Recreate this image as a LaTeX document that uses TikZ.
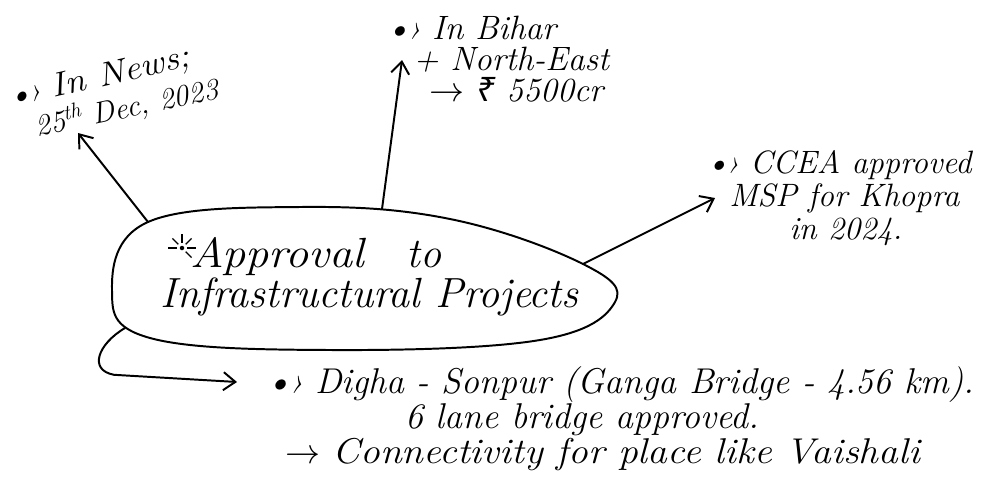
\documentclass[tikz,border=0pt]{standalone}
\usepackage{fontspec}
\usepackage{tikz}
\usetikzlibrary{arrows.meta, positioning, calc}
\newfontfamily\rupeefont{Noto Sans}
\newcommand{\bul}{\textbullet\kern-1.5pt\guilsinglright\ }

\tikzset{
  ink/.style={line width=1.4pt, line cap=round, line join=round},
  arr/.style={ink, -{Straight Barb[length=3mm,width=4.5mm]}},
  note/.style={font=\itshape\fontsize{23}{23.5}\selectfont, align=left, inner sep=0pt},
  big/.style={font=\itshape\fontsize{30}{28.5}\selectfont, align=left, inner sep=0pt},
  low/.style={font=\itshape\fontsize{25.5}{26}\selectfont, inner sep=0pt, anchor=base west}
}

\begin{document}
\begin{tikzpicture}
  \useasboundingbox (0,0) rectangle (24.75,-12.325);

  % central blob
  \draw[ink] plot[smooth cycle, tension=0.65] coordinates {
    (3.7,-5.55) (7.5,-5.175) (11.25,-5.475) (14.575,-6.6) (15.375,-7.55)
    (13.5,-8.5) (8.25,-8.75) (3.75,-8.45) (2.8,-7.25)};
  \coordinate (bnw) at (3.7,-5.55);
  \coordinate (btop) at (9.55,-5.225);
  \coordinate (beast) at (14.575,-6.6);
  \coordinate (bsw) at (3.125,-8.2);

  % title
  \coordinate (spark) at (4.55,-6.2);
  \fill (spark) circle (1.6pt);
  \foreach \a in {90,45,135,0,180,-45}
    \draw[line width=0.9pt] ($(spark)+(\a:0.13)$) -- ($(spark)+(\a:0.34)$);
  \node[big, anchor=north west] (core) at (4,-5.92)
    {\hspace*{0.75cm}\scalebox{1.1}[1]{Approval}\quad to\\Infrastructural\ Projects};

  % notes
  \node[note, anchor=base west, rotate=13] (news) at (0.25,-2.7)
    {\bul\scalebox{1.1}[1]{\fontsize{24}{24}\selectfont In News;}};
  \node[note, anchor=base west, rotate=12, font=\itshape\fontsize{21.5}{22}\selectfont] (date) at (0.925,-3.425)
    {25\textsuperscript{th} Dec, 2023};
  \node[note, anchor=north west, font=\itshape\fontsize{24}{22}\selectfont] (bihar) at (9.625,-0.4)
    {\bul In Bihar\\\hspace*{0.7cm}+ North-East\\\hspace*{1.1cm}$\rightarrow$ {\rupeefont ₹} 5500cr};
  \node[note, anchor=north west] (ccea) at (17.625,-3.75)
    {\bul CCEA approved\\\hspace*{0.6cm}MSP for Khopra\\\hspace*{2.1cm}in 2024.};
  \node[low] (digha) at (6.625,-9.825)
    {\bul Digha - Sonpur (Ganga Bridge - 4.56 km).};
  \node[low] (lane) at (10.125,-10.7) {6 lane bridge approved.};
  \node[low] (conn) at (7.125,-11.575)
    {$\rightarrow$ \scalebox{1.1}[1]{Connectivity for place like Vaishali}};

  % arrow tips
  \coordinate (newstip) at (1.95,-3.325);
  \coordinate (bihartip) at (10.05,-1.5);
  \coordinate (cceatip) at (17.875,-4.95);
  \coordinate (dighatip) at (5.925,-9.55);

  % connectors
  \draw[arr] (bnw) -- (newstip);
  \draw[arr] (btop) -- (bihartip);
  \draw[arr] (beast) -- (cceatip);
  \draw[arr] (bsw) .. controls (2.45,-8.6) and (2.2,-9.25) .. (2.85,-9.37) -- (dighatip);
\end{tikzpicture}
\end{document}
